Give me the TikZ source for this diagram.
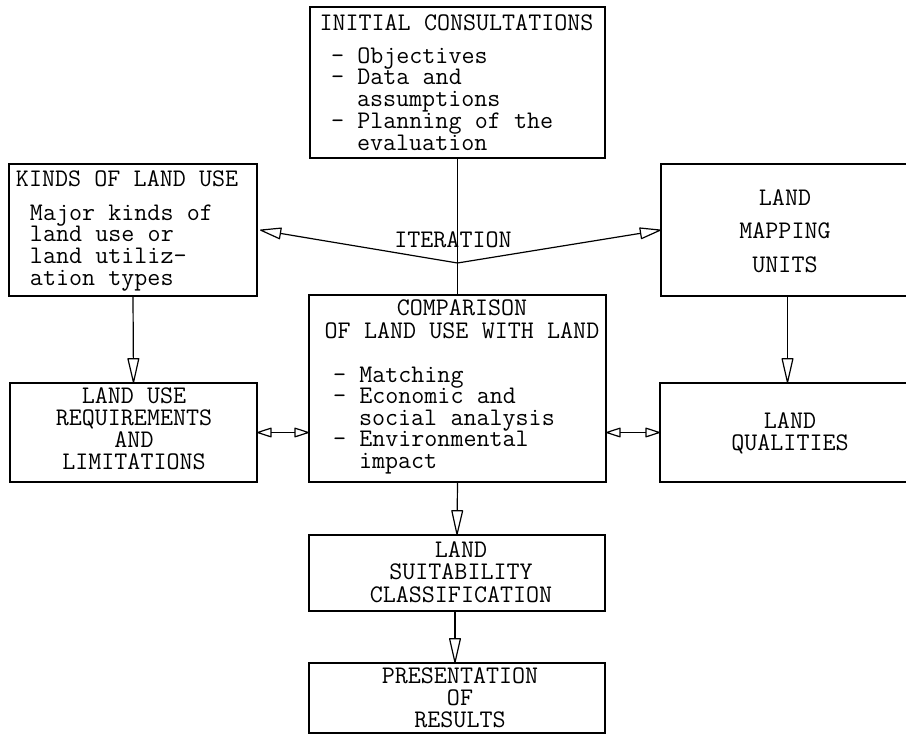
\documentclass[tikz,border=0pt]{standalone}
\usepackage{fontspec}
\usetikzlibrary{arrows.meta,calc}
\newcommand\tsz[1]{\ttfamily\fontsize{25.3}{#1}\selectfont\lineskiplimit=-30pt\lineskip=0pt}
\newcommand\monosp{\spaceskip=0.525em\xspaceskip=0.525em\relax}
\begin{document}
\begin{tikzpicture}[x=1pt,y=-1pt,
  box/.style={draw, line width=1.2pt, inner sep=0pt, outer sep=0pt},
  txt/.style={inner sep=0pt, outer sep=0pt, font=\tsz{22}},
  ltxt/.style={txt, text width=290pt, align=left, anchor=base west},
  ctxt/.style={txt, text width=290pt, align=center, anchor=base},
  conn/.style={line width=1.2pt},
  downtip/.style={-{Triangle[open,length=27pt,width=12pt,line join=round]}},
  itertip/.style={-{Triangle[open,length=23pt,width=12pt,line join=round]}},
  dbltip/.style={{Triangle[open,length=16pt,width=10pt,line join=round]}-{Triangle[open,length=16pt,width=10pt,line join=round]}}]
\useasboundingbox (0,0) rectangle (906,734);

% boxes
\node[box, minimum width=295pt, minimum height=151pt] (init) at (457.5,82.5) {};
\node[box, minimum width=248pt, minimum height=132pt] (kinds) at (133,230) {};
\node[box, minimum width=246pt, minimum height=132pt] (mapping) at (784,230) {};
\node[box, minimum width=297pt, minimum height=187pt] (comp) at (457.5,388.5) {};
\node[box, minimum width=247pt, minimum height=99pt] (req) at (133.5,432.5) {};
\node[box, minimum width=247pt, minimum height=99pt] (qual) at (783.5,432.5) {};
\node[box, minimum width=296pt, minimum height=76pt] (suit) at (457,573) {};
\node[box, minimum width=296pt, minimum height=70pt] (pres) at (457,698) {};

% texts
\node[ctxt] (ti0) at (456.5,30) {\monosp INITIAL CONSULTATIONS};
\node[ltxt, font=\tsz{21.75}] (ti1) at (318,63) {\monosp\hphantom{x}- Objectives\\ \hphantom{x}- Data and\\ \hphantom{xxx}assumptions\\ \hphantom{x}- Planning of the\\ \hphantom{xxx}evaluation};

\node[ltxt] (tk0) at (16,186) {\monosp KINDS OF LAND USE};
\node[ltxt, font=\tsz{21.7}] (tk1) at (30,220) {\monosp Major kinds of\\ land use or\\ land utiliz-\\ ation types};

\node[ctxt, font=\tsz{33.5}] (tm) at (785,205) {LAND\\ MAPPING\\ UNITS};

\node[ctxt] (titer) at (453,247) {ITERATION};

\node[ctxt, font=\tsz{23}] (tc0) at (462,315) {\monosp COMPARISON\\ OF LAND USE WITH LAND};
\node[ltxt, font=\tsz{21.5}] (tc1) at (320,382) {\monosp\hphantom{x}- Matching\\ \hphantom{x}- Economic and\\ \hphantom{xxx}social analysis\\ \hphantom{x}- Environmental\\ \hphantom{xxx}impact};

\node[ctxt] (tr) at (134,403) {\monosp LAND USE\\ REQUIREMENTS\\ AND\\ LIMITATIONS};

\node[ctxt] (tq) at (790,428) {LAND\\ QUALITIES};

\node[ctxt, font=\tsz{22.5}] (ts) at (461,557) {LAND\\ SUITABILITY\\ CLASSIFICATION};

\node[ctxt] (tp) at (460,683) {PRESENTATION\\ OF\\ RESULTS};

% connectors
\coordinate (J) at (457.5,263);
\draw[conn] (init.south) -- (comp.north);
\draw[conn, itertip] (J) -- ([xshift=3pt]kinds.east);
\draw[conn, itertip] (J) -- (mapping.west);
\draw[conn, downtip] (kinds.south) -- (req.north);
\draw[conn, downtip] ([xshift=3.5pt]mapping.south) -- ([xshift=3.5pt]mapping.south |- qual.north);
\draw[conn, downtip] (comp.south) -- (suit.north);
\draw[conn, downtip] ([xshift=-2pt]suit.south) -- ([xshift=-2pt]pres.north);
\draw[conn, dbltip] (req.east) -- (req.east -| comp.west);
\draw[conn, dbltip] (qual.west -| comp.east) -- (qual.west);
\end{tikzpicture}
\end{document}
